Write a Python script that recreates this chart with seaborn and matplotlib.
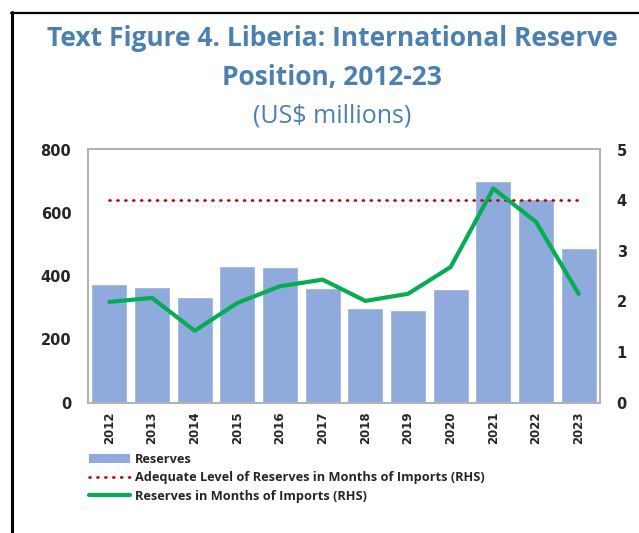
import matplotlib
matplotlib.use("Agg")
import matplotlib.pyplot as plt
from matplotlib.lines import Line2D
from matplotlib.patches import Patch
import seaborn as sns
import pandas as pd

years = ["2012", "2013", "2014", "2015", "2016", "2017",
         "2018", "2019", "2020", "2021", "2022", "2023"]
reserves = [375, 366, 333, 433, 429, 362, 298, 294, 359, 701, 645, 488]
months_of_imports = [1.99, 2.07, 1.42, 1.97, 2.30, 2.43, 2.01, 2.15, 2.68, 4.23, 3.57, 2.15]
adequate_level = [4.0] * len(years)

df = pd.DataFrame({
    "year": years,
    "reserves": reserves,
    "months": months_of_imports,
    "adequate": adequate_level,
})
df["pos"] = range(len(years))

sns.set_theme(style="white")
plt.rcParams["font.family"] = ["DejaVu Sans"]

BAR = "#8FAADC"
GREEN = "#00B050"
RED = "#C00000"
TITLE = "#4A80B2"
DOTS = (0, (0.4, 2.6))

fig = plt.figure(figsize=(6.39, 5.33), dpi=100)
ax = fig.add_axes([88 / 639, 1 - 402.7 / 533, 512 / 639, 253.2 / 533])

sns.barplot(data=df, x="pos", y="reserves", color=BAR, width=0.85,
            saturation=1, ax=ax, native_scale=True)
ax.set_xlim(-0.5, 11.5)
ax.set_ylim(0, 800)
ax.set_yticks([0, 200, 400, 600, 800])
ax.set_xticks(range(len(years)))
ax.set_xticklabels(years, rotation=90, fontsize=8.5, fontweight="bold")
ax.tick_params(axis="y", labelsize=10.5, pad=12, length=0)
for lbl in ax.get_yticklabels():
    lbl.set_fontweight("bold")
ax.tick_params(axis="x", pad=6, length=0)
ax.set_xlabel("")
ax.set_ylabel("")
for s in ax.spines.values():
    s.set_color("#B3B3B3")
    s.set_linewidth(1.5)

ax2 = ax.twinx()
sns.lineplot(data=df, x="pos", y="adequate", color=RED, linewidth=1.9,
             linestyle=DOTS, dash_capstyle="round", ax=ax2)
sns.lineplot(data=df, x="pos", y="months", color=GREEN, linewidth=3, ax=ax2)
ax2.set_ylim(0, 5)
ax2.set_yticks([0, 1, 2, 3, 4, 5])
ax2.tick_params(axis="y", labelsize=10.5, pad=12, length=0)
for lbl in ax2.get_yticklabels():
    lbl.set_fontweight("bold")
ax2.set_ylabel("")
ax2.set_xlabel("")
for s in ax2.spines.values():
    s.set_visible(False)
ax.set_xlim(-0.5, 11.5)

# titles
cx = 332 / 639
fig.text(cx, 1 - 38 / 533, "Text Figure 4. Liberia: International Reserve",
         ha="center", va="center", fontsize=19, fontweight="bold",
         color=TITLE, family="Open Sans")
fig.text(cx, 1 - 77 / 533, "Position, 2012-23", ha="center", va="center",
         fontsize=19, fontweight="bold", color=TITLE, family="Open Sans")
fig.text(cx, 1 - 116 / 533, "(US$ millions)", ha="center", va="center",
         fontsize=18, color=TITLE, family="Open Sans")

# legend
handles = [
    Patch(facecolor=BAR, edgecolor="none"),
    Line2D([], [], color=RED, linewidth=1.9, linestyle=DOTS,
           dash_capstyle="round"),
    Line2D([], [], color=GREEN, linewidth=3),
]
labels = ["Reserves",
          "Adequate Level of Reserves in Months of Imports (RHS)",
          "Reserves in Months of Imports (RHS)"]
fig.legend(handles, labels, loc="upper left",
           bbox_to_anchor=(89 / 639, 1 - 453 / 533), frameon=False,
           prop={"family": "Open Sans", "weight": "bold", "size": 9.2},
           handlelength=3.2, handletextpad=0.4, labelspacing=0.42,
           borderaxespad=0, borderpad=0)

# outer frame: left and top rules
fig.add_artist(Line2D([12 / 639, 12 / 639], [0, 1 - 12 / 533],
                      color="black", linewidth=2.2, transform=fig.transFigure))
fig.add_artist(Line2D([11 / 639, 1], [1 - 12.5 / 533, 1 - 12.5 / 533],
                      color="black", linewidth=1.6, transform=fig.transFigure))

fig.savefig("out.png", dpi=100)
